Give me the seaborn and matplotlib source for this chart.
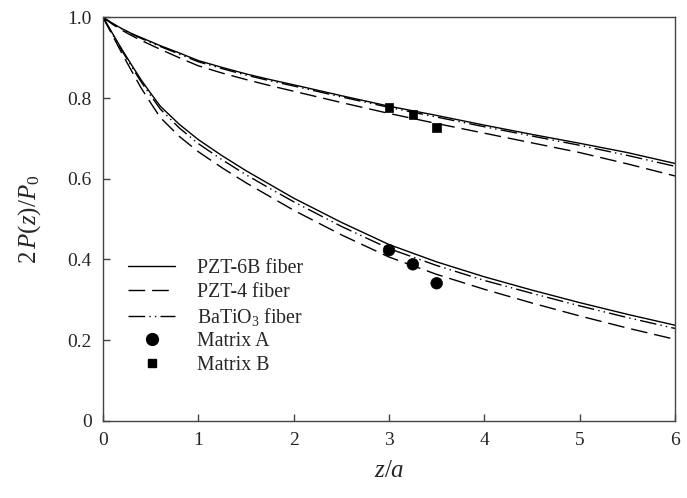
import seaborn as sns
import matplotlib
matplotlib.use("Agg")
import matplotlib.pyplot as plt
from matplotlib.lines import Line2D
import pandas as pd
import numpy as np

sns.set_style("ticks")
plt.rcParams['font.family'] = ['Liberation Serif', 'DejaVu Serif']
plt.rcParams['mathtext.fontset'] = 'custom'
plt.rcParams['mathtext.rm'] = 'Liberation Serif'
plt.rcParams['mathtext.it'] = 'Liberation Serif:italic'

# z/a sample positions
z = [0, 0.1, 0.2, 0.3, 0.4, 0.5, 0.6, 0.8, 1.0, 1.25, 1.5, 1.75, 2, 2.5, 3, 3.5, 4, 4.5, 5, 5.5, 6]

# Matrix A (lower group)
pzt6b_A = [1.0, 0.96, 0.92, 0.882, 0.845, 0.812, 0.78, 0.735, 0.697, 0.657, 0.62, 0.586, 0.552, 0.492, 0.437,
           0.394, 0.357, 0.324, 0.293, 0.264, 0.237]
pzt4_A = [1.0, 0.955, 0.91, 0.867, 0.825, 0.788, 0.752, 0.705, 0.667, 0.627, 0.59, 0.556, 0.522, 0.461, 0.406,
          0.363, 0.326, 0.292, 0.26, 0.23, 0.202]
batio3_A = [1.0, 0.958, 0.917, 0.878, 0.84, 0.806, 0.773, 0.726, 0.687, 0.647, 0.61, 0.576, 0.543, 0.482, 0.427,
            0.385, 0.348, 0.316, 0.285, 0.256, 0.229]

# Matrix B (upper group)
pzt6b_B = [1.0, 0.985, 0.972, 0.96, 0.95, 0.94, 0.93, 0.912, 0.893, 0.876, 0.86, 0.846, 0.833, 0.806, 0.78,
           0.757, 0.733, 0.71, 0.688, 0.665, 0.638]
pzt4_B = [1.0, 0.983, 0.968, 0.955, 0.943, 0.932, 0.921, 0.9, 0.88, 0.862, 0.846, 0.831, 0.817, 0.789, 0.762,
          0.737, 0.713, 0.689, 0.665, 0.637, 0.607]
batio3_B = [1.0, 0.985, 0.971, 0.959, 0.948, 0.938, 0.928, 0.909, 0.89, 0.873, 0.857, 0.843, 0.83, 0.803, 0.777,
            0.753, 0.729, 0.706, 0.683, 0.658, 0.631]

# measured points
pts_z = [3.0, 3.25, 3.5]
matrixA_pts = [0.423, 0.388, 0.341]
matrixB_pts = [0.777, 0.759, 0.727]

fibers = ['PZT-6B fiber', 'PZT-4 fiber', r'BaTiO$_3$ fiber']
curves = {('A', fibers[0]): pzt6b_A, ('A', fibers[1]): pzt4_A, ('A', fibers[2]): batio3_A,
          ('B', fibers[0]): pzt6b_B, ('B', fibers[1]): pzt4_B, ('B', fibers[2]): batio3_B}

rows = []
for (mat, fib), vals in curves.items():
    for zz, v in zip(z, vals):
        rows.append({'z': zz, 'p': v, 'fiber': fib, 'matrix': mat})
df = pd.DataFrame(rows)

pts = pd.DataFrame({'z': pts_z + pts_z, 'p': matrixA_pts + matrixB_pts,
                    'matrix': ['Matrix A'] * 3 + ['Matrix B'] * 3})

dashes = {fibers[0]: '', fibers[1]: (12, 5), fibers[2]: (12, 3, 1, 3, 1, 3)}

fig = plt.figure(figsize=(6.87, 4.98), dpi=100)
ax = fig.add_axes([0.150, 0.155, 0.8325, 0.81])

sns.lineplot(data=df, x='z', y='p', style='fiber', units='matrix', estimator=None,
             dashes=dashes, color='black', linewidth=1.0, ax=ax, legend=False)
sns.scatterplot(data=pts, x='z', y='p', style='matrix', markers={'Matrix A': 'o', 'Matrix B': 's'},
                size='matrix', sizes={'Matrix A': 70, 'Matrix B': 38},
                color='black', edgecolor='black', ax=ax, legend=False, zorder=5)

ax.set_xlim(0, 6)
ax.set_ylim(0, 1.0)
ax.set_xticks(range(7))
ax.set_yticks([0, 0.2, 0.4, 0.6, 0.8, 1.0])
ax.set_yticklabels(['0', '0.2', '0.4', '0.6', '0.8', '1.0'])
ax.tick_params(direction='in', length=5, width=1, labelsize=14, color='#444444', pad=8,
               top=False, right=False)
for s in ax.spines.values():
    s.set_color('#444444')
    s.set_linewidth(1)

ax.set_xlabel(r'$z/a$', fontsize=18, labelpad=8)
ax.set_ylabel(r'$2\,P(z)/P_0$', fontsize=18, labelpad=18)

handles = [Line2D([], [], color='black', lw=1.0, linestyle='-'),
           Line2D([], [], color='black', lw=1.0, dashes=(12, 5)),
           Line2D([], [], color='black', lw=1.0, dashes=(12, 3, 1, 3, 1, 3)),
           Line2D([], [], color='black', marker='o', markersize=8.5, linestyle='None'),
           Line2D([], [], color='black', marker='s', markersize=6, linestyle='None')]
labels = fibers + ['Matrix A', 'Matrix B']
ax.legend(handles, labels, loc='upper left', bbox_to_anchor=(0.012, 0.445), frameon=False,
          fontsize=14.3, handlelength=2.4, handletextpad=1.1, labelspacing=0.22)

fig.savefig('out.png', dpi=100)
